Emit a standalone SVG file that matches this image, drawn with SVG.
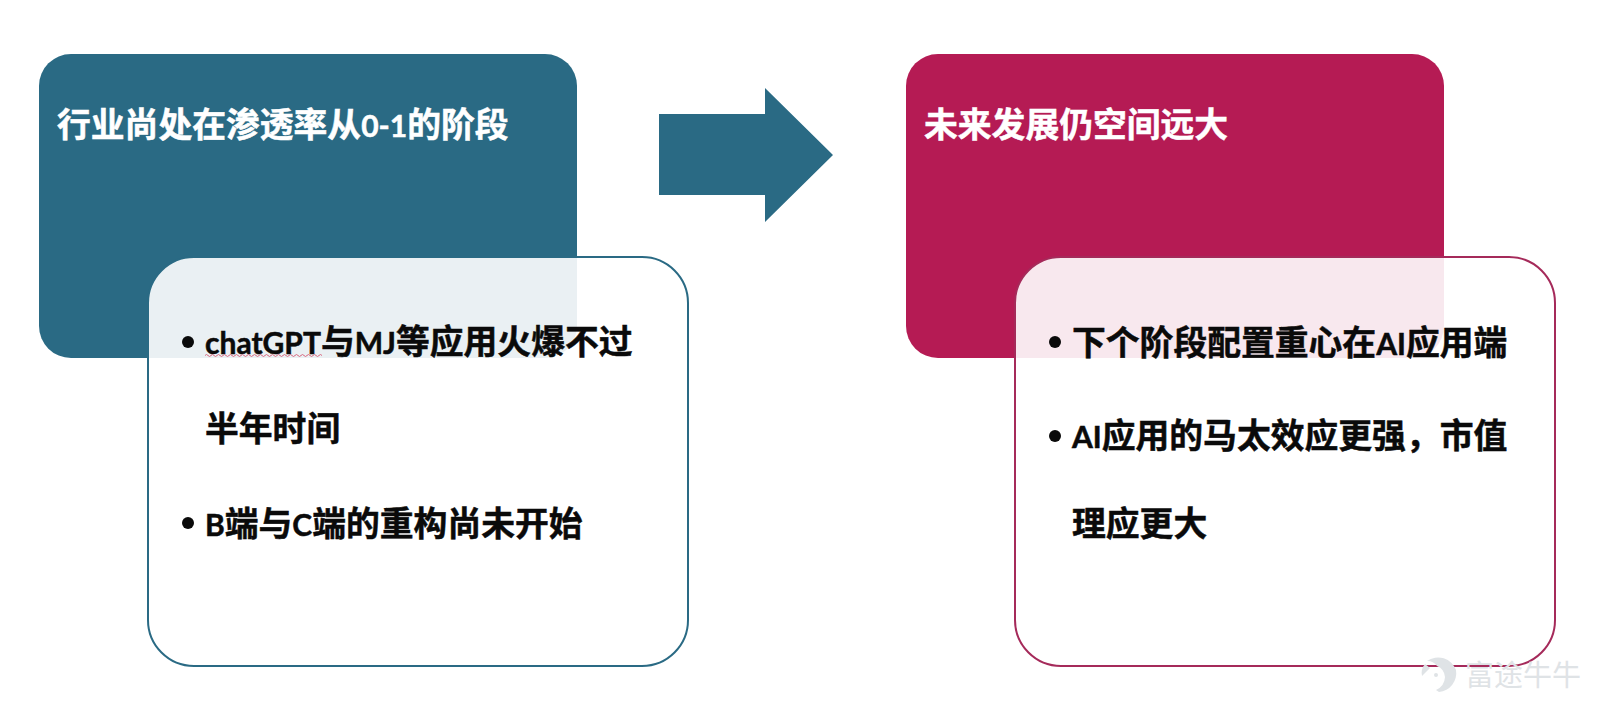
<svg xmlns="http://www.w3.org/2000/svg" width="1600" height="711" viewBox="0 0 1600 711">
<style>
text{font-family:"Noto Sans CJK SC","Noto Sans",sans-serif;font-weight:700;font-size:33.8px}
.t{fill:#fff;stroke:#fff;stroke-width:.5}
.b{fill:#0a0a0a;stroke:#0a0a0a;stroke-width:.5}
.l{font-family:"Lato","Noto Sans",sans-serif;font-weight:700;font-size:30px}
.dot{fill:#0a0a0a}
.inner{fill:#fff;fill-opacity:.9;stroke-width:2}
.wm{fill:#dfe3e6;font-size:29px;font-weight:400}
</style>
<rect width="1600" height="711" fill="#fff"/>
<g id="node-left-header">
<rect x="39" y="54" width="538" height="304" rx="32" fill="#2a6a84"/>
<text class="t" x="57" y="137">行业尚处在渗透率从<tspan class="l">0-1</tspan>的阶段</text>
</g>
<g id="connectors">
<polygon points="659,114 765,114 765,88 833,155 765,222 765,195 659,195" fill="#2a6a84"/>
</g>
<g id="node-right-header">
<rect x="906" y="54" width="538" height="304" rx="32" fill="#b51b54"/>
<text class="t" x="924" y="137">未来发展仍空间远大</text>
</g>
<g id="node-left-body">
<rect class="inner" x="148" y="257" width="540" height="409" rx="46" stroke="#2a6a84"/>
<circle class="dot" cx="188" cy="342" r="6"/>
<text class="b" x="205" y="354"><tspan class="l">chatGPT</tspan>与<tspan class="l">MJ</tspan>等应用火爆不过</text>
<path d="M205 355.500q1.500 -2 3 0t3 0t3 0t3 0t3 0t3 0t3 0t3 0t3 0t3 0t3 0t3 0t3 0t3 0t3 0t3 0t3 0t3 0t3 0t3 0t3 0t3 0t3 0t3 0t3 0t3 0t3 0t3 0t3 0t3 0t3 0t3 0t3 0t3 0t3 0t3 0t3 0t3 0t3 0" fill="none" stroke="#d9677f" stroke-width="1"/>
<text class="b" x="205" y="441">半年时间</text>
<circle class="dot" cx="188" cy="523" r="6"/>
<text class="b" x="205" y="536"><tspan class="l">B</tspan>端与<tspan class="l">C</tspan>端的重构尚未开始</text>
</g>
<g id="node-right-body">
<rect class="inner" x="1015" y="257" width="540" height="409" rx="46" stroke="#a52a5a"/>
<circle class="dot" cx="1055" cy="342" r="6"/>
<text class="b" x="1072" y="355">下个阶段配置重心在<tspan class="l">AI</tspan>应用端</text>
<circle class="dot" cx="1055" cy="436" r="6"/>
<text class="b" x="1072" y="448"><tspan class="l">AI</tspan>应用的马太效应更强，市值</text>
<text class="b" x="1072" y="536">理应更大</text>
</g>
<g id="watermark">
<path d="M1427 661a19 19 0 0 1 29 9a19 19 0 0 1 -17 22l-3 -2a15 15 0 0 0 9 -13a13 13 0 0 0 -8 -11a12 12 0 0 0 -10 -5z" fill="#dfe3e6"/>
<path d="M1425 664l5 4l-8 8a14 14 0 0 1 3 -12z" fill="#dfe3e6"/>
<circle cx="1436" cy="675" r="2" fill="#dfe3e6"/>
<text class="wm" x="1465" y="686">富途牛牛</text>
</g>
</svg>
